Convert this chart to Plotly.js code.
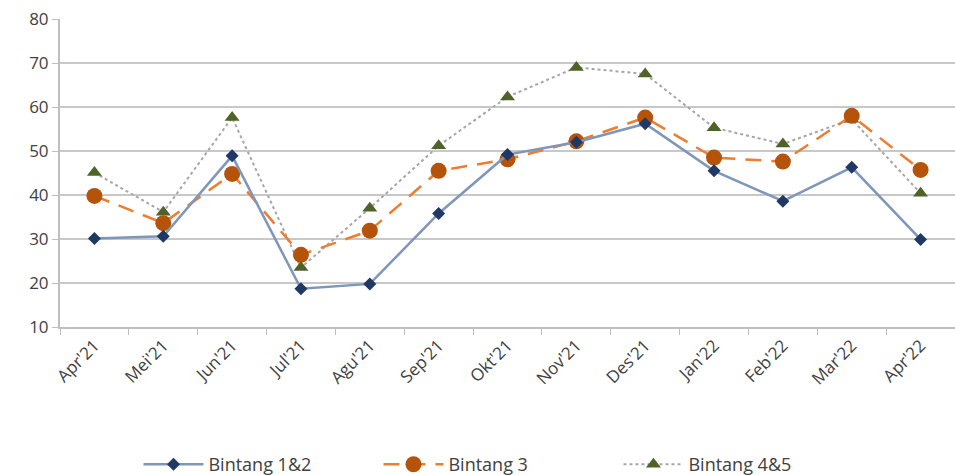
<!DOCTYPE html>
<html>
<head>
<meta charset="utf-8">
<script src="https://cdn.plot.ly/plotly-3.0.1.min.js"></script>
<style>html,body{margin:0;padding:0;background:#fff;}#chart{width:955px;height:475px;}</style>
</head>
<body>
<div id="chart"></div>
<script>
const months = ["Apr'21","Mei'21","Jun'21","Jul'21","Agu'21","Sep'21","Okt'21","Nov'21","Des'21","Jan'22","Feb'22","Mar'22","Apr'22"];
const bintang12 = [30.1, 30.6, 48.9, 18.7, 19.8, 35.8, 49.2, 52.0, 56.2, 45.5, 38.6, 46.3, 29.9];
const bintang3 = [39.8, 33.6, 44.8, 26.4, 31.9, 45.5, 48.1, 52.2, 57.6, 48.5, 47.6, 58.0, 45.7];
const bintang45 = [45.1, 36.1, 57.6, 23.5, 37.0, 51.2, 62.3, 69.0, 67.5, 55.3, 51.6, 57.2, 40.4];
const seriesNames = ["Bintang 1&2", "Bintang 3", "Bintang 4&5"];

const traces = [
  {x: months, y: bintang45, name: seriesNames[2], type: 'scatter', mode: 'lines+markers',
   line: {color: '#a6a6a6', width: 2, dash: 'dot'},
   marker: {symbol: 'triangle-up', size: 13, color: '#4f6228'}},
  {x: months, y: bintang3, name: seriesNames[1], type: 'scatter', mode: 'lines+markers',
   line: {color: '#ed7d31', width: 2.5, dash: '16px,10px'},
   marker: {symbol: 'circle', size: 16, color: '#b5530a'}},
  {x: months, y: bintang12, name: seriesNames[0], type: 'scatter', mode: 'lines+markers',
   line: {color: '#7f96bb', width: 2.5},
   marker: {symbol: 'diamond', size: 10, color: '#1f3864'}}
];

const layout = {
  width: 955, height: 475,
  margin: {l: 60, r: 0, t: 19, b: 148},
  paper_bgcolor: '#fff', plot_bgcolor: '#fff',
  font: {family: 'Open Sans, sans-serif', color: '#404040'},
  showlegend: true,
  legend: {orientation: 'h', xref: 'container', yref: 'container', x: 0.145, xanchor: 'left', y: 0.022, yanchor: 'middle',
           traceorder: 'reversed', font: {size: 18, color: '#404040'}, itemwidth: 60, entrywidth: 165},
  xaxis: {type: 'category', tickson: 'boundaries', ticks: 'outside', ticklen: 6, tickcolor: '#bfbfbf',
          showgrid: false, showline: true, linecolor: '#bfbfbf', linewidth: 2, tickangle: -45,
          tickfont: {size: 17, color: '#404040'}, range: [-0.5, 12.5], fixedrange: true},
  yaxis: {range: [10, 80], dtick: 10, showgrid: true, gridcolor: '#c8c8c8', gridwidth: 2,
          showline: true, linecolor: '#bfbfbf', linewidth: 2, ticks: 'outside', ticklen: 6, tickcolor: '#bfbfbf',
          zeroline: false, tickfont: {size: 17, color: '#404040'}}
};
Plotly.newPlot('chart', traces, layout, {displayModeBar: false, staticPlot: true});
</script>
</body>
</html>
